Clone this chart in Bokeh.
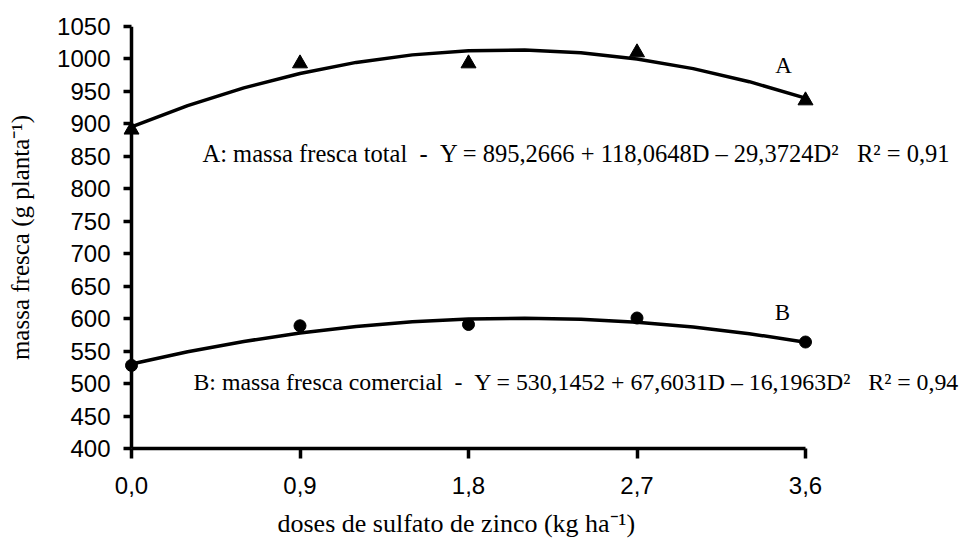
from bokeh.plotting import figure
from bokeh.models import Label, FixedTicker, Range1d, Title, Span
from bokeh.embed import file_html
from bokeh.resources import INLINE

# data
doses = [0.0, 0.9, 1.8, 2.7, 3.6]
total_obs = [891, 993, 993, 1010, 936]
comercial_obs = [528, 589, 591, 601, 564]

curve_d = [0.0, 0.3, 0.6, 0.9, 1.2, 1.5, 1.8, 2.1, 2.4, 2.7, 3.0, 3.3, 3.6]
total_fit = [895.3, 928.0, 955.5, 977.7, 994.7, 1006.3, 1012.6, 1013.7, 1009.4, 999.9, 985.1, 965.0, 939.6]
comercial_fit = [530.1, 549.0, 564.9, 577.9, 587.9, 595.1, 599.4, 600.7, 599.1, 594.6, 587.2, 576.9, 563.6]

x_ticks = [0.0, 0.9, 1.8, 2.7, 3.6]
x_tick_labels = ["0,0", "0,9", "1,8", "2,7", "3,6"]
y_ticks = list(range(400, 1051, 50))

NB = "\u00a0"
eq_a = ("A: massa fresca total" + NB * 2 + "-" + NB * 2 +
        "Y = 895,2666 + 118,0648D \u2013 29,3724D\u00b2" + NB * 3 + "R\u00b2 = 0,91")
eq_b = ("B: massa fresca comercial" + NB * 2 + "-" + NB * 2 +
        "Y = 530,1452 + 67,6031D \u2013 16,1963D\u00b2" + NB * 3 + "R\u00b2 = 0,94")
x_title = "doses de sulfato de zinco (kg ha\u207b\u00b9)"
y_title = "massa fresca (g planta\u207b\u00b9)"

SANS = "Liberation Sans"
SERIF = "Liberation Serif"

p = figure(width=978, height=544, output_backend="svg", toolbar_location=None,
           x_range=Range1d(-0.04273, 4.51869), y_range=Range1d(400, 1050),
           min_border_left=123, min_border_right=1, min_border_top=26, min_border_bottom=0)
p.frame_width = 854
p.frame_height = 422
p.outline_line_color = None
p.grid.visible = False

for ax in (p.xaxis[0], p.yaxis[0]):
    ax.axis_line_width = 3.5
    ax.major_tick_line_width = 3.5
    ax.minor_tick_line_color = None
    ax.major_label_text_font = SANS
    ax.major_label_text_font_size = "24px"
    ax.major_label_text_color = "black"
    ax.axis_label_text_font = SERIF
    ax.axis_label_text_font_size = "25px"
    ax.axis_label_text_font_style = "normal"
    ax.axis_label_text_color = "black"

p.xaxis.ticker = FixedTicker(ticks=x_ticks)
p.xaxis.major_label_overrides = dict(zip(x_ticks, x_tick_labels))
p.xaxis.major_tick_in = 0
p.xaxis.major_tick_out = 10
p.xaxis.major_label_standoff = 18
p.xaxis.bounds = (0, 3.6)

p.add_layout(Title(text=x_title, align="left", offset=154, standoff=20,
                   text_font=SERIF, text_font_size="26px", text_font_style="normal",
                   text_color="black"), "below")

p.yaxis.ticker = FixedTicker(ticks=y_ticks)
p.yaxis.axis_line_color = None
p.yaxis.major_tick_out = 0
p.yaxis.major_tick_in = 8
p.yaxis.major_label_standoff = 13
p.yaxis.axis_label = y_title
p.yaxis.axis_label_standoff = 20

# vertical axis line at dose 0
p.add_layout(Span(location=0, dimension="height", line_color="black", line_width=3.5))

p.line(curve_d, total_fit, line_color="black", line_width=3.5)
p.line(curve_d, comercial_fit, line_color="black", line_width=3.5)
p.scatter(doses, total_obs, marker="triangle", size=15, fill_color="black", line_color="black")
p.scatter(doses, comercial_obs, marker="circle", size=12, fill_color="black", line_color="black")

p.add_layout(Label(x=0.379, y=854, text=eq_a, text_font=SERIF, text_font_size="24.5px",
                   text_baseline="middle", text_color="black"))
p.add_layout(Label(x=0.331, y=502, text=eq_b, text_font=SERIF, text_font_size="23.8px",
                   text_baseline="middle", text_color="black"))
p.add_layout(Label(x=3.483, y=990, text="A", text_font=SERIF, text_font_size="23px",
                   text_baseline="middle", text_align="center", text_color="black"))
p.add_layout(Label(x=3.477, y=609, text="B", text_font=SERIF, text_font_size="23px",
                   text_baseline="middle", text_align="center", text_color="black"))

open("out.html", "w").write(file_html(p, INLINE))
